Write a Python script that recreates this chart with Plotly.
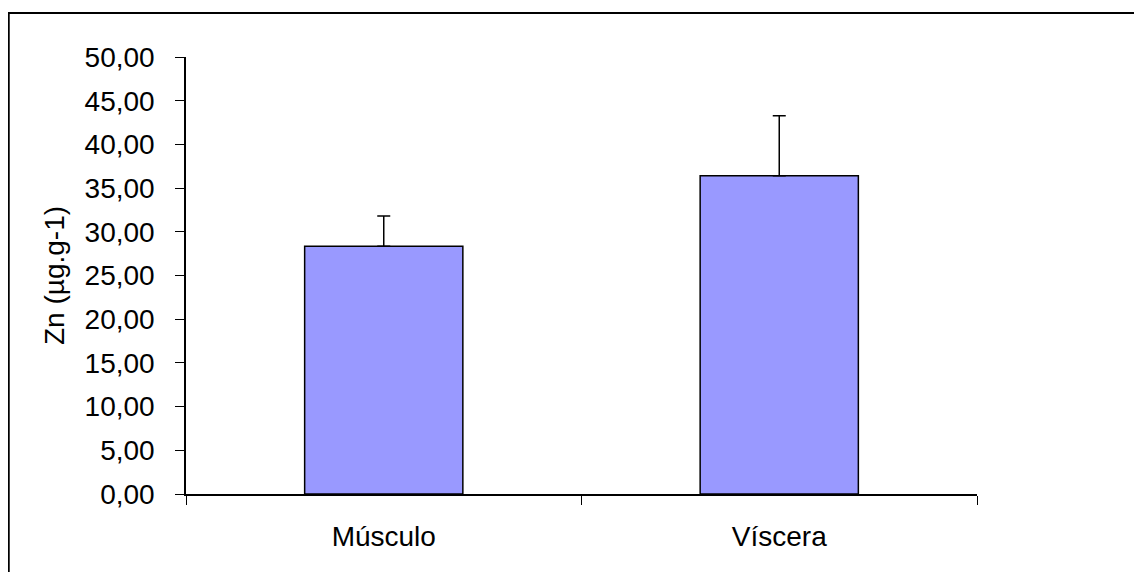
import plotly.graph_objects as go

categories = ["Músculo", "Víscera"]
means = [28.35, 36.42]
errors_plus = [3.45, 6.85]
errors_minus = [0, 0]
y_title = "Zn (µg.g-1)"

W, H = 1142, 572
OFF = 8  # page body margin
L, R, T, B = 185.5 - OFF, 977.5 - OFF, 57 - OFF, 493.7 - OFF

fig = go.Figure()
fig.add_trace(go.Bar(
    x=categories, y=means,
    marker=dict(color="#9999FF", line=dict(color="black", width=1.5)),
    error_y=dict(type="data", symmetric=False, array=errors_plus, arrayminus=errors_minus,
                 color="black", thickness=1.5, width=6.5),
))

font = dict(family="Liberation Sans, Arial, sans-serif", size=28, color="black")

fig.update_layout(
    width=W, height=H,
    margin=dict(l=L, r=W - R, t=T, b=H - B, pad=0),
    paper_bgcolor="white", plot_bgcolor="white",
    separators=",.",
    bargap=0.6,
    showlegend=False,
    font=font,
    xaxis=dict(
        type="category", tickson="boundaries", ticks="outside", ticklen=9, tickwidth=1,
        tickcolor="black", showline=True, linecolor="black", linewidth=1.5,
        showgrid=False, zeroline=False, tickfont=font, range=[-0.5, 1.5],
        ticklabelstandoff=17,
    ),
    yaxis=dict(
        range=[0, 50], dtick=5, tick0=0, tickformat=".2f", ticks="outside", ticklen=9,
        tickwidth=1, tickcolor="black", showline=True, linecolor="black", linewidth=1.5,
        showgrid=False, zeroline=False, tickfont=font,
        title=dict(text=y_title, font=font, standoff=12),
        automargin=False, ticklabelstandoff=15,
    ),
)

# outer chart border
pw, ph = R - L, B - T
fig.add_shape(type="rect", xref="paper", yref="paper",
              x0=(0 - L) / pw, x1=(1131 - L) / pw,
              y0=(B - 580) / ph, y1=(B - 5) / ph,
              line=dict(color="black", width=2), fillcolor="rgba(0,0,0,0)", layer="above")

fig.write_html("out.html")
